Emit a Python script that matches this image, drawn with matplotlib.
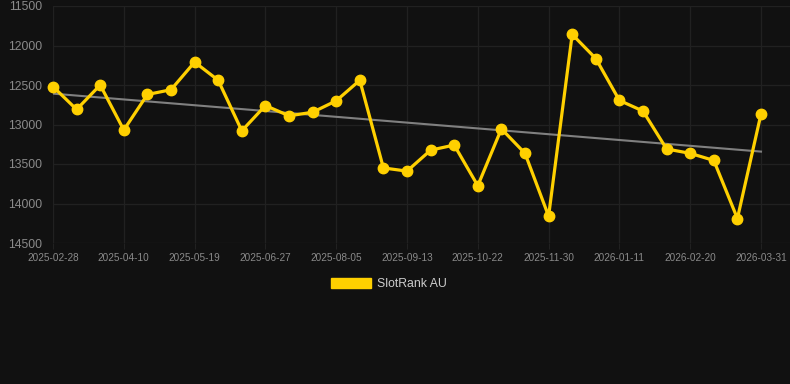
import matplotlib.pyplot as plt
import numpy as np
from matplotlib.patches import Patch

plt.rcParams['font.family'] = ['Liberation Sans', 'DejaVu Sans']

# rank values, one point every ~13 days
rank = [12520, 12810, 12500, 13070, 12620, 12560, 12210, 12440, 13080, 12760,
        12890, 12845, 12700, 12440, 13550, 13590, 13325, 13260, 13775, 13055,
        13365, 14160, 11860, 12165, 12695, 12830, 13310, 13365, 13455, 14190,
        12867]
tick_labels = ['2025-02-28', '2025-04-10', '2025-05-19', '2025-06-27', '2025-08-05',
               '2025-09-13', '2025-10-22', '2025-11-30', '2026-01-11', '2026-02-20',
               '2026-03-31']
y_ticks = [11500, 12000, 12500, 13000, 13500, 14000, 14500]
series_name = 'SlotRank AU'

bg = '#111111'
yellow = '#ffd000'

fig = plt.figure(figsize=(7.9, 3.84), dpi=100, facecolor=bg)
ax = fig.add_axes([53/790, 141/384, 737/790, 237/384])
ax.set_facecolor(bg)

x = np.arange(len(rank))
ax.plot(x, rank, color=yellow, lw=2.3, marker='o', ms=7.5, zorder=3,
        solid_joinstyle='round', clip_on=False)

# linear trend
k, b = np.polyfit(x, rank, 1)
ax.plot(x, k * x + b, color='#808080', lw=1.5, zorder=2)

ax.set_ylim(14500, 11500)
ax.set_xlim(0, 30 + 29 / 23.6)
ax.set_yticks(y_ticks)
ax.set_xticks(x[::3])
ax.set_xticklabels(tick_labels)

ax.grid(True, color='#212121', lw=0.9)
ax.set_axisbelow(True)
for s in ax.spines.values():
    s.set_visible(False)
ax.tick_params(axis='y', length=0, pad=7.5, labelsize=8.8, labelcolor='#8a8a8a')
ax.tick_params(axis='x', length=4, color='#212121', pad=3, labelsize=7.2, labelcolor='#8a8a8a')

fig.legend(handles=[Patch(facecolor=yellow, edgecolor=yellow, label=series_name)],
           loc='center', bbox_to_anchor=(389/790, 1 - 284/384), frameon=False,
           fontsize=8.8, labelcolor='#cccccc', handlelength=3.2, handleheight=0.95,
           handletextpad=0.5)

plt.savefig('out.png', dpi=100, facecolor=bg)
